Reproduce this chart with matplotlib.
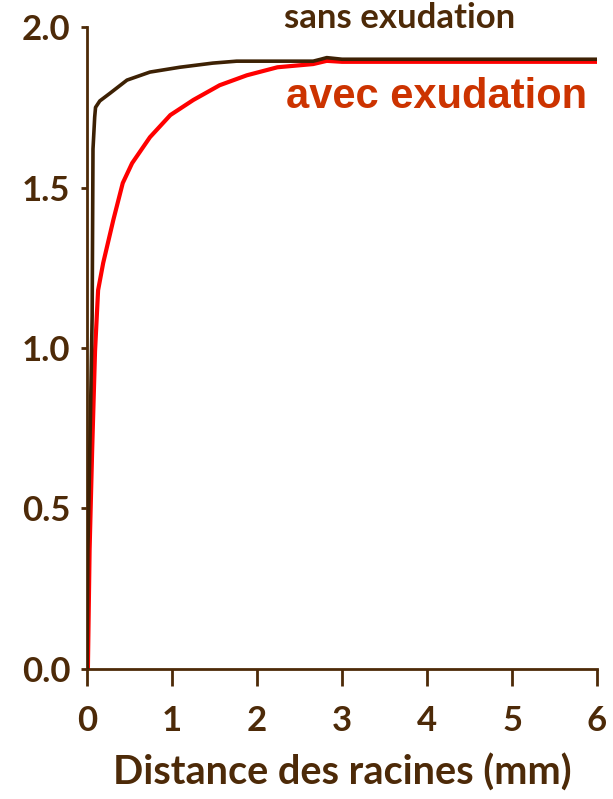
import numpy as np
import matplotlib.pyplot as plt

# courbes (distance en mm)
x_sans = [0, 0.01, 0.04, 0.06, 0.07, 0.09, 0.10, 0.15, 0.27, 0.47, 0.74, 1.09,
          1.48, 1.76, 2.66, 2.75, 2.82, 3.0, 6.0]
y_sans = [0, 0.37, 0.785, 1.10, 1.62, 1.72, 1.75, 1.77, 1.794, 1.835, 1.86, 1.875,
          1.888, 1.894, 1.894, 1.90, 1.905, 1.90, 1.90]

x_avec = [0.01, 0.03, 0.06, 0.094, 0.13, 0.19, 0.31, 0.42, 0.53, 0.74, 0.98, 1.25,
          1.56, 1.88, 2.24, 2.66, 2.82, 3.0, 6.0]
y_avec = [0, 0.37, 0.68, 0.99, 1.18, 1.265, 1.40, 1.514, 1.576, 1.657, 1.726, 1.773,
          1.819, 1.85, 1.875, 1.885, 1.895, 1.892, 1.892]

xticks = [0, 1, 2, 3, 4, 5, 6]
yticks = [0.0, 0.5, 1.0, 1.5, 2.0]

brun = '#4d2a08'
ligne_sans = '#3d2104'
rouge = '#ff0000'
rouge_txt = '#cc3300'

fig = plt.figure(figsize=(6.13, 7.99), dpi=100)
ax = fig.add_axes([0.142, 0.163, 0.832, 0.803])

ax.plot(x_sans, y_sans, color=ligne_sans, linewidth=2.6, zorder=3)
ax.plot(x_avec, y_avec, color=rouge, linewidth=3.0, zorder=2)

ax.set_xlim(0, 6)
ax.set_ylim(0, 2.0)
ax.set_xticks(xticks)
ax.set_yticks(yticks)
ax.set_xticklabels([str(v) for v in xticks])
ax.set_yticklabels([f'{v:.1f}' for v in yticks])

for s in ['top', 'right']:
    ax.spines[s].set_visible(False)
for s in ['left', 'bottom']:
    ax.spines[s].set_color(brun)
    ax.spines[s].set_linewidth(2)

ax.tick_params(axis='x', direction='out', length=12, width=2, color=brun,
               labelcolor=brun, pad=14)
ax.tick_params(axis='y', direction='out', length=4, width=2, color=brun,
               labelcolor=brun, pad=8)
for lab in ax.get_xticklabels() + ax.get_yticklabels():
    lab.set_fontfamily('Lato')
    lab.set_fontweight('bold')
    lab.set_fontsize(25)

ax.set_xlabel('Distance des racines (mm)', fontsize=28.5, fontweight='bold',
              family='Lato', color=brun, labelpad=12)

ax.text(3.68, 2.03, 'sans exudation', fontsize=25, fontweight='bold', family='Lato',
        color=brun, ha='center', va='center', clip_on=False)
ax.text(4.11, 1.782, 'avec exudation', fontsize=30, fontweight='bold',
        family='Liberation Sans', color=rouge_txt, ha='center', va='center')

fig.savefig('out.png', dpi=100)
